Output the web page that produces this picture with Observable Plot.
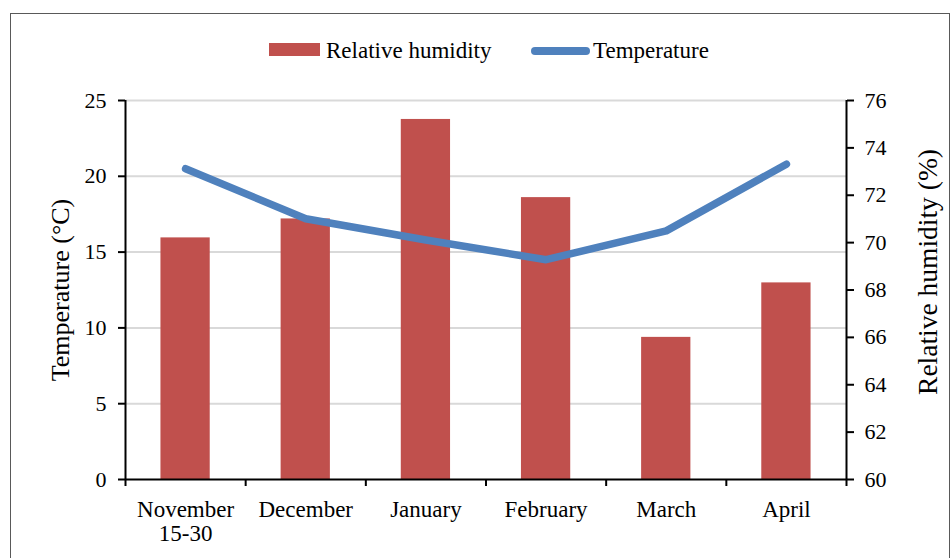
<!DOCTYPE html>
<html>
<head>
<meta charset="utf-8">
<script src="https://cdn.jsdelivr.net/npm/d3@7"></script>
<script src="https://cdn.jsdelivr.net/npm/@observablehq/plot@0.6"></script>
<style>
  html, body { margin: 0; padding: 0; background: #fff; }
  #wrap { position: relative; width: 950px; height: 558px; overflow: hidden; font-family: "Liberation Serif", "Times New Roman", serif; }
  #border { position: absolute; left: 10px; top: 13px; width: 940px; height: 560px; border: 1px solid #595959; box-sizing: border-box; }
  #legend { position: absolute; left: 0; top: 38px; width: 950px; height: 26px; }
  .sw { position: absolute; }
  .lt { position: absolute; top: 0; font-size: 23px; line-height: 26px; color: #000; white-space: nowrap; }
  #chart { position: absolute; left: 0; top: 0; }
</style>
</head>
<body>
<div id="wrap">
  <div id="border"></div>
  <div id="chart"></div>
  <div id="legend">
    <div class="sw" style="left:269px; top:5px; width:51px; height:13px; background:#c0504d;"></div>
    <div class="lt" style="left:326px;">Relative humidity</div>
    <div class="sw" style="left:531px; top:9px; width:59px; height:8px; border-radius:4px; background:#4f81bd;"></div>
    <div class="lt" style="left:593px;">Temperature</div>
  </div>
</div>
<script>
// Monthly climate readings for the growing season
const categories = ["November\n15-30", "December", "January", "February", "March", "April"];
const temperature = [20.5, 17.2, 15.8, 14.5, 16.4, 20.8];   // °C, left axis
const humidity = [70.2, 71.0, 75.2, 71.9, 66.0, 68.3];      // %, right axis
const tempTicks = [0, 5, 10, 15, 20, 25];
const rhTicks = [60, 62, 64, 66, 68, 70, 72, 74, 76];

// Humidity (60–76 %) is drawn on the temperature (0–25 °C) scale
const rhMin = 60, rhMax = 76, tMax = 25;
const rhToT = h => (h - rhMin) * tMax / (rhMax - rhMin);
const tToRh = t => rhMin + t * (rhMax - rhMin) / tMax;

const data = categories.map((c, i) => ({i, cat: c, temp: temperature[i], rh: humidity[i]}));
const boundaries = d3.range(-0.5, categories.length, 1);
const barHalf = 0.205;

const chart = Plot.plot({
  width: 950,
  height: 558,
  marginLeft: 125,
  marginRight: 104,
  marginTop: 100,
  marginBottom: 79,
  style: {fontFamily: "Liberation Serif, Times New Roman, serif", color: "#000", background: "transparent", overflow: "visible"},
  x: {type: "linear", domain: [-0.5, categories.length - 0.5], axis: null},
  y: {domain: [0, tMax], axis: null},
  marks: [
    Plot.gridY(tempTicks.filter(t => t > 0), {stroke: "#d9d9d9", strokeOpacity: 1, strokeWidth: 2}),
    Plot.rectY(data, {x1: d => d.i - barHalf, x2: d => d.i + barHalf, y1: 0, y2: d => rhToT(d.rh), fill: "#c0504d"}),
    Plot.line(data, {x: "i", y: "temp", stroke: "#4f81bd", strokeWidth: 7.5, strokeLinecap: "round", strokeLinejoin: "round"}),
    // axis lines
    Plot.ruleX([-0.5], {stroke: "#000", strokeWidth: 2}),
    Plot.ruleX([categories.length - 0.5], {stroke: "#000", strokeWidth: 2}),
    Plot.ruleY([0], {stroke: "#000", strokeWidth: 2}),
    // left axis: temperature
    Plot.axisY({ticks: tempTicks, anchor: "left", tickSize: 7, tickPadding: 12, strokeWidth: 2, fontSize: 22, label: null}),
    // right axis: relative humidity
    Plot.axisY({ticks: rhTicks.map(rhToT), tickFormat: t => String(Math.round(tToRh(t))), anchor: "right", tickSize: 7, tickPadding: 11, strokeWidth: 2, fontSize: 22, label: null}),
    // category boundary ticks and labels
    Plot.axisX({ticks: boundaries, tickFormat: () => "", tickSize: 7, strokeWidth: 2, label: null}),
    Plot.axisX({ticks: d3.range(categories.length), tickFormat: i => categories[i], tickSize: 0, tickPadding: 20, fontSize: 23, lineHeight: 1.05, label: null}),
    // axis titles
    Plot.text(["Temperature (°C)"], {frameAnchor: "left", dx: -65, rotate: -90, textAnchor: "middle", lineAnchor: "middle", fontSize: 26, fill: "#000"}),
    Plot.text(["Relative humidity (%)"], {frameAnchor: "right", dx: 82, dy: -18, rotate: -90, textAnchor: "middle", lineAnchor: "middle", fontSize: 27.5, fill: "#000"})
  ]
});
document.getElementById("chart").appendChild(chart);
</script>
</body>
</html>
